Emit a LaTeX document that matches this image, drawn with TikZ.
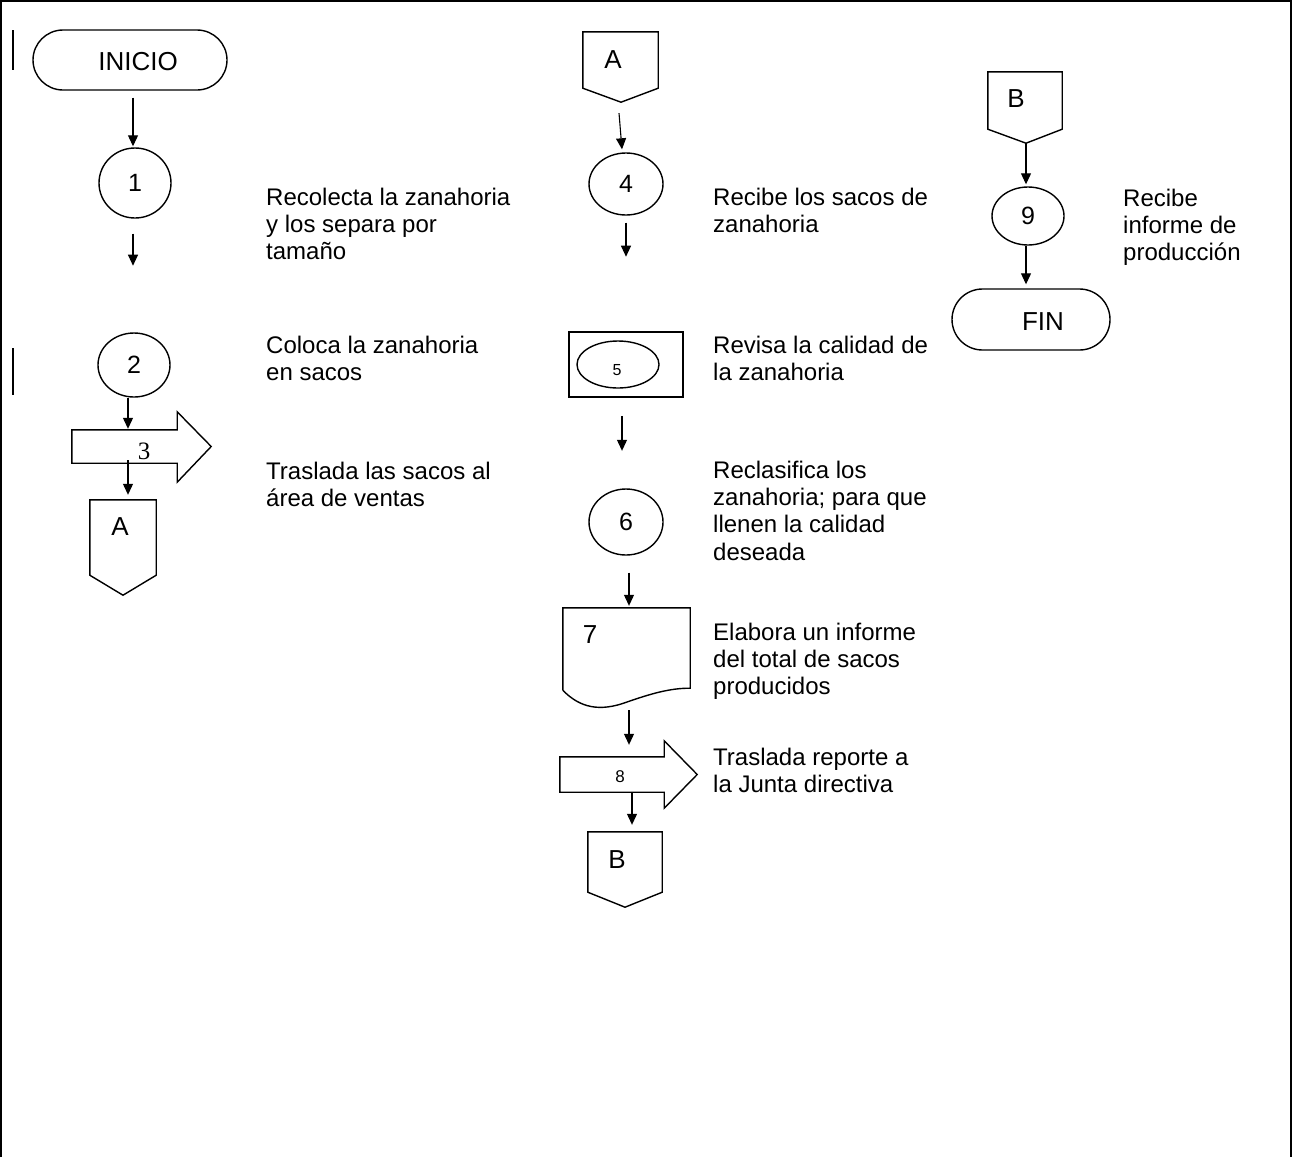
\documentclass[tikz,border=0pt]{standalone}
\usepackage{fontspec}
\setmainfont{Liberation Sans}
\newfontfamily\serifnum{Liberation Serif}
\usetikzlibrary{arrows.meta,shapes.geometric,shapes.misc,calc}
\begin{document}
\begin{tikzpicture}[x=1pt,y=-1pt,
  shp/.style={draw,line width=1.4pt,line join=miter},
  ell/.style={ellipse,draw,line width=1.4pt,inner sep=0,font=\fontsize{25}{28}\selectfont},
  term/.style={rounded rectangle,draw,line width=1.4pt,inner sep=0},
  flow/.style={line width=1.1pt,-{Triangle[length=11pt,width=10pt]}},
  txt/.style={anchor=north west,inner sep=0,align=left,font=\fontsize{24}{27.3}\selectfont},
  lbl/.style={inner sep=0,font=\fontsize{26}{28}\selectfont},
  num/.style={inner sep=0,font=\fontsize{26}{28}\selectfont},
  box/.style={inner sep=0,draw=none}]

\useasboundingbox (0,0) rectangle (1297,1157);

% frame
\draw[line width=2pt] (1,1157) -- (1,1) -- (1291,1) -- (1291,1157);
\draw[line width=1.5pt] (13,30) -- (13,70);
\draw[line width=1.5pt] (13,348) -- (13,395);

% ---------- column 1
\node[term,minimum width=194,minimum height=60] (inicio) at (130,60) {};
\node[lbl] (iniciot) at (138,62) {INICIO};
\node[ell,minimum width=72,minimum height=70] (c1) at (135,183) {1};
\node[ell,minimum width=72,minimum height=64] (c2) at (134,365) {2};

\node[box,minimum width=105,minimum height=33] (s3) at (124.5,446.5) {};
\draw[shp] (s3.north west) -- (s3.north east) -- ($(s3.north east)+(0,-18)$)
  -- ($(s3.east)+(34,0)$) -- ($(s3.south east)+(0,19)$) -- (s3.south east)
  -- (s3.south west) -- cycle;
\node[inner sep=0,font=\serifnum\fontsize{25}{28}\selectfont] (s3t) at (144,451) {3};

\node[box,minimum width=66,minimum height=75] (oA1) at (123,537.5) {};
\draw[shp] (oA1.south west) -- (oA1.north west) -- (oA1.north east)
  -- (oA1.south east) -- ($(oA1.south)+(0,20)$) -- cycle;
\node[num] (oA1t) at (120,527) {A};

\draw[flow] ($(inicio.south)+(3,7)$) -- ($(c1.north)+(-2,-1)$);
\draw[flow] ($(c1.south)+(-2,15)$) -- ($(c1.south)+(-2,47)$);
\draw[flow] ($(c2.south)+(-6,0)$) -- ($(s3.north)+(3.5,-1)$);
\draw[flow] ($(s3.south)+(3.5,-3)$) -- ($(oA1.north)+(5,-5)$);

\node[txt] (t1) at (266,186) {\strut Recolecta la zanahoria\\y los separa por\\tamaño};
\node[txt] (t2) at (266,334) {\strut Coloca la zanahoria\\en sacos};
\node[txt] (t3) at (266,460) {\strut Traslada las sacos al\\área de ventas};

% ---------- column 2
\node[box,minimum width=75,minimum height=56] (oA2) at (620.5,60) {};
\draw[shp] (oA2.south west) -- (oA2.north west) -- (oA2.north east)
  -- (oA2.south east) -- ($(oA2.south)+(0.5,14)$) -- cycle;
\node[num] (oA2t) at (613,60) {A};

\node[ell,minimum width=74,minimum height=62] (c4) at (626,184) {4};

\node[draw,line width=1.6pt,minimum width=114,minimum height=65,inner sep=0] (b5) at (626,364.5) {};
\node[ell,minimum width=82,minimum height=47] (e5) at (618,364.5) {};
\node[inner sep=0,font=\fontsize{16}{18}\selectfont] (e5t) at (617,370) {5};

\node[ell,minimum width=74,minimum height=66] (c6) at (626,522) {6};

\node[box,minimum width=127,minimum height=82] (d7) at (626.5,649) {};
\draw[shp] (d7.south west) -- (d7.north west) -- (d7.north east)
  -- ($(d7.south east)+(0,-2)$) .. controls (670,688) and (650,694) .. (627,702)
  .. controls (600,712) and (580,708) .. (d7.south west);
\node[num] (d7t) at (590,635) {7};

\node[box,minimum width=104,minimum height=35] (s8) at (612,774.5) {};
\draw[shp] (s8.north west) -- (s8.north east) -- ($(s8.north east)+(0,-16)$)
  -- ($(s8.east)+(33,0)$) -- ($(s8.south east)+(0,16)$) -- (s8.south east)
  -- (s8.south west) -- cycle;
\node[inner sep=0,font=\fontsize{17}{20}\selectfont] (s8t) at (620,777) {8};

\node[box,minimum width=74,minimum height=60] (oB1) at (625,862) {};
\draw[shp] (oB1.south west) -- (oB1.north west) -- (oB1.north east)
  -- (oB1.south east) -- ($(oB1.south)+(0,15)$) -- cycle;
\node[num] (oB1t) at (617,860) {B};

\draw[flow] ($(oA2.south)+(-1.5,25)$) -- ($(c4.north)+(-4,-3)$);
\draw[flow] ($(c4.south)+(0,7)$) -- ($(c4.south)+(0,41)$);
\draw[flow] ($(b5.south)+(-4,18)$) -- ($(b5.south)+(-4,53)$);
\draw[flow] ($(c6.south)+(3,17)$) -- ($(d7.north)+(2.5,-2)$);
\draw[flow] ($(d7.south)+(2.5,20)$) -- ($(s8.north)+(17,-12)$);
\draw[flow] ($(s8.south)+(20,0)$) -- ($(oB1.north)+(7,-7)$);

\node[txt] (t4) at (713,186) {\strut Recibe los sacos de\\zanahoria};
\node[txt] (t5) at (713,334) {\strut Revisa la calidad de\\la zanahoria};
\node[txt] (t6) at (713,459) {\strut Reclasifica los\\zanahoria; para que\\llenen la calidad\\deseada};
\node[txt] (t7) at (713,621) {\strut Elabora un informe\\del total de sacos\\producidos};
\node[txt] (t8) at (713,746) {\strut Traslada reporte a\\la Junta directiva};

% ---------- column 3
\node[box,minimum width=74,minimum height=57] (oB2) at (1025,100.5) {};
\draw[shp] (oB2.south west) -- (oB2.north west) -- (oB2.north east)
  -- (oB2.south east) -- ($(oB2.south)+(1,14)$) -- cycle;
\node[num] (oB2t) at (1016,99) {B};

\node[ell,minimum width=72,minimum height=58] (c9) at (1028,216) {9};
\node[term,minimum width=158,minimum height=61] (fin) at (1031,319.5) {};
\node[lbl] (fint) at (1043,322) {FIN};

\draw[flow] ($(oB2.south)+(1,14)$) -- ($(c9.north)+(-2,-2)$);
\draw[flow] ($(c9.south)+(-2,0)$) -- ($(fin.north)+(-5,-4)$);

\node[txt] (t9) at (1123,187) {\strut Recibe\\informe de\\producción};
\end{tikzpicture}
\end{document}
